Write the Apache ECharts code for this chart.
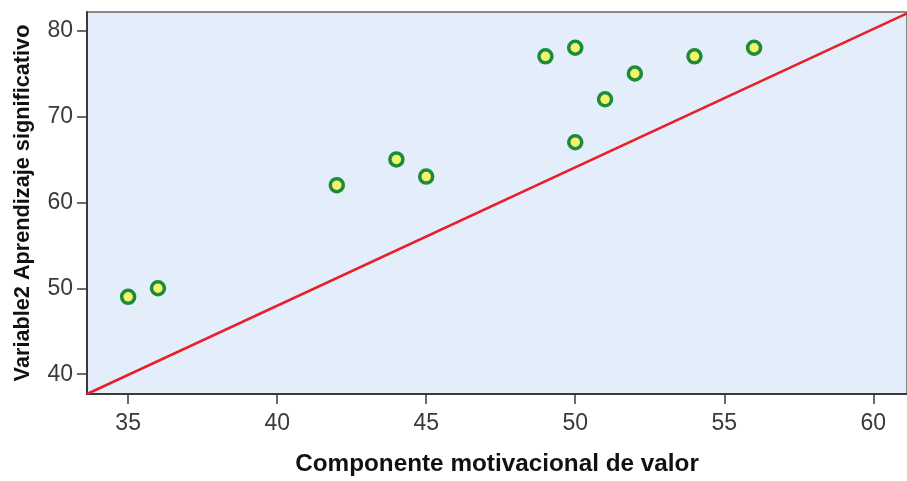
<!DOCTYPE html>
<html>
<head>
<meta charset="utf-8">
<script src="https://cdn.jsdelivr.net/npm/echarts@6/dist/echarts.min.js"></script>
<style>html,body{margin:0;padding:0;background:#fff}#c{width:907px;height:481px}</style>
</head>
<body>
<div id="c"></div>
<script>
var xValues = [35, 36, 42, 44, 45, 49, 50, 50, 51, 52, 54, 56];
var yValues = [49, 50, 62, 65, 63, 77, 78, 67, 72, 75, 77, 78];
var xTicks = [35, 40, 45, 50, 55, 60];
var yTicks = [40, 50, 60, 70, 80];
var refLineX = [33.62, 61.13];
var refLineY = [37.69, 82.0];
var xName = 'Componente motivacional de valor';
var yName = 'Variable2 Aprendizaje significativo';

var points = xValues.map(function (x, i) { return [x, yValues[i]]; });
var linePts = refLineX.map(function (x, i) { return [x, refLineY[i]]; });

var chart = echarts.init(document.getElementById('c'));
var font = 'Liberation Sans, Arial, sans-serif';
chart.setOption({
  animation: false,
  grid: {
    left: 87, top: 12, right: -2, bottom: 84,
    show: true, backgroundColor: '#e3eefa', borderColor: '#8a8a8a', borderWidth: 2
  },
  xAxis: {
    type: 'value', min: 33.62, max: 61.13,
    name: xName, nameLocation: 'middle', nameGap: 58,
    nameTextStyle: { fontFamily: font, fontSize: 24.3, fontWeight: 'bold', color: '#111' },
    axisLine: { show: true, lineStyle: { color: '#3a3a3a', width: 2 } },
    axisTick: { show: true, length: 10, customValues: xTicks, lineStyle: { color: '#3a3a3a', width: 1.5 } },
    axisLabel: { customValues: xTicks, margin: 18, fontFamily: font, fontSize: 23, color: '#3a3a3a' },
    splitLine: { show: false }
  },
  yAxis: {
    type: 'value', min: 37.69, max: 82.16,
    name: yName, nameLocation: 'middle', nameGap: 53,
    nameTextStyle: { fontFamily: font, fontSize: 21.7, fontWeight: 'bold', color: '#111' },
    axisLine: { show: true, lineStyle: { color: '#3a3a3a', width: 2 } },
    axisTick: { show: true, length: 10, customValues: yTicks, lineStyle: { color: '#3a3a3a', width: 1.5 } },
    axisLabel: { customValues: yTicks, margin: 14, fontFamily: font, fontSize: 23, color: '#3a3a3a' },
    splitLine: { show: false }
  },
  series: [
    {
      type: 'line', data: linePts, showSymbol: false, symbol: 'none',
      lineStyle: { color: '#e8202a', width: 2.5 }, z: 2
    },
    {
      type: 'scatter', data: points, symbol: 'circle', symbolSize: 13,
      itemStyle: { color: '#f4f46a', borderColor: '#1e8a3c', borderWidth: 3.5, opacity: 1 }, z: 3
    }
  ]
});
</script>
</body>
</html>
